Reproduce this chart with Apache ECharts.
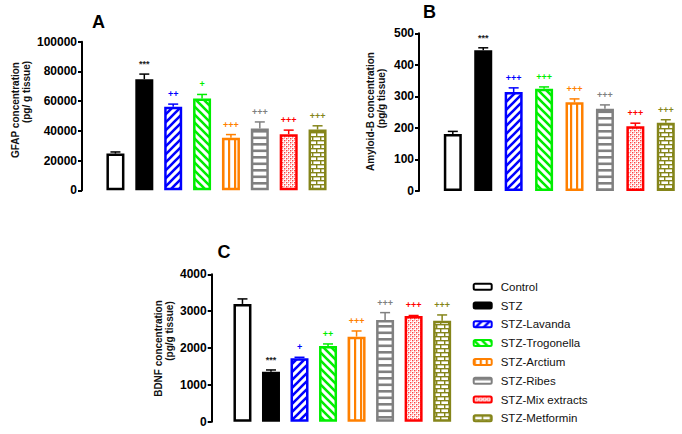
<!DOCTYPE html>
<html>
<head>
<meta charset="utf-8">
<script src="https://cdn.jsdelivr.net/npm/echarts@6/dist/echarts.min.js"></script>
<style>
html,body{margin:0;padding:0;background:#fff;}
#chart{width:682px;height:434px;}
</style>
</head>
<body>
<div id="chart"></div>
<script>
// ---- data ----
const categories = ['Control', 'STZ', 'STZ-Lavanda', 'STZ-Trogonella', 'STZ-Arctium', 'STZ-Ribes', 'STZ-Mix extracts', 'STZ-Metformin'];

const gfapValues = [24700, 74800, 56200, 61800, 35300, 41600, 37800, 40900];
const gfapErrors = [1100, 3400, 1800, 2700, 2200, 4400, 2700, 2500];
const gfapMarks = ['', '***', '++', '+', '+++', '+++', '+++', '+++'];
const gfapTicks = [0, 20000, 40000, 60000, 80000, 100000];

const abValues = [181, 446, 314, 324, 281, 261, 205, 216];
const abErrors = [8, 8, 13, 6, 11, 12, 10, 10];
const abMarks = ['', '***', '+++', '+++', '+++', '+++', '+++', '+++'];
const abTicks = [0, 100, 200, 300, 400, 500];

const bdnfValues = [3196, 1358, 1721, 2055, 2308, 2761, 2870, 2742];
const bdnfErrors = [136, 46, 27, 55, 154, 199, 12, 155];
const bdnfMarks = ['', '***', '+', '++', '+++', '+++', '+++', '+++'];
const bdnfTicks = [0, 1000, 2000, 3000, 4000];

const panelLetters = ['A', 'B', 'C'];
const axisTitles = [
  ['GFAP concentration', '(pg/ g tissue)'],
  ['Amyloid-B concentration', '(pg/g tissue)'],
  ['BDNF concentration', '(pg/g tissue)']
];

// ---- styles ----
const FONT = 'Liberation Sans, Arial, Helvetica, sans-serif';
const colors = ['#000000', '#000000', '#0000ff', '#00ee00', '#ff8000', '#808080', '#ff0000', '#85851a'];

function tile(w, h, draw) {
  const c = document.createElement('canvas');
  c.width = w; c.height = h;
  const g = c.getContext('2d');
  g.fillStyle = '#ffffff';
  g.fillRect(0, 0, w, h);
  draw(g);
  return { image: c.toDataURL(), imageWidth: w, imageHeight: h, repeat: 'repeat' };
}
const fills = [
  '#ffffff',
  '#000000',
  tile(8, 8, g => { g.strokeStyle = colors[2]; g.lineWidth = 2.6; g.beginPath();
    g.moveTo(-2, 10); g.lineTo(10, -2); g.moveTo(-2, 2); g.lineTo(2, -2); g.moveTo(6, 10); g.lineTo(10, 6); g.stroke(); }),
  tile(8, 8, g => { g.strokeStyle = colors[3]; g.lineWidth = 2.6; g.beginPath();
    g.moveTo(-2, -2); g.lineTo(10, 10); g.moveTo(6, -2); g.lineTo(10, 2); g.moveTo(-2, 6); g.lineTo(2, 10); g.stroke(); }),
  tile(6, 2, g => { g.fillStyle = colors[4]; g.fillRect(0, 0, 2.2, 2); }),
  tile(2, 13, g => { g.fillStyle = colors[5]; g.fillRect(0, 0, 2, 2.6); g.fillRect(0, 6.5, 2, 2.6); }),
  tile(4, 4, g => { g.fillStyle = '#ff4040'; g.fillRect(0, 0, 1.4, 1.4); g.fillRect(2, 2, 1.4, 1.4); g.fillStyle = '#ffa0a0'; g.fillRect(2, 0, 1, 1); g.fillRect(0, 2, 1, 1); }),
  tile(8, 8, g => { g.fillStyle = colors[7]; g.fillRect(0, 0, 8, 1.4); g.fillRect(0, 4, 8, 1.4); g.fillRect(0, 0, 1.4, 4); g.fillRect(4, 4, 1.4, 4); })
];

const panels = [
  { values: gfapValues, errors: gfapErrors, marks: gfapMarks, ticks: gfapTicks,
    grid: { left: 101, top: 41.7, width: 231, height: 148.6 }, offset: 19 },
  { values: abValues, errors: abErrors, marks: abMarks, ticks: abTicks,
    grid: { left: 437.6, top: 33.3, width: 243.4, height: 157.7 }, offset: 18.6 },
  { values: bdnfValues, errors: bdnfErrors, marks: bdnfMarks, ticks: bdnfTicks,
    grid: { left: 228.2, top: 274.3, width: 228.2, height: 147.4 }, offset: 16.5 }
];

const grids = [], xAxes = [], yAxes = [], series = [];
panels.forEach((p, k) => {
  grids.push(Object.assign({ containLabel: false }, p.grid));
  xAxes.push({ type: 'category', gridIndex: k, data: categories, show: false });
  const tmax = p.ticks[p.ticks.length - 1];
  yAxes.push({
    type: 'value', gridIndex: k, min: p.ticks[0], max: tmax, interval: p.ticks[1] - p.ticks[0],
    offset: p.offset,
    axisLine: { show: true, lineStyle: { color: '#000', width: 2 } },
    axisTick: { show: true, length: 4, lineStyle: { color: '#000', width: 2 } },
    axisLabel: { color: '#000', fontSize: 12, fontWeight: 'bold', fontFamily: FONT, margin: 5,
      formatter: v => String(v) },
    splitLine: { show: false }
  });
  categories.forEach((name, i) => {
    series.push({
      type: 'bar', name: name, xAxisIndex: k, yAxisIndex: k,
      data: p.values.map((v, j) => (j === i ? v : '-')),
      barWidth: 18, barGap: '-100%',
      itemStyle: { color: fills[i], borderColor: colors[i], borderWidth: 2.5 },
      emphasis: { disabled: true }, silent: true
    });
  });
  series.push({
    type: 'custom', xAxisIndex: k, yAxisIndex: k, z: 5, silent: true,
    data: p.values.map((v, i) => [i, v, p.errors[i]]),
    encode: { x: 0, y: 1 },
    renderItem: function (params, api) {
      const i = api.value(0), v = api.value(1), e = api.value(2);
      const b = api.coord([i, v]);
      const t = api.coord([i, v + e]);
      const c = colors[i];
      const mark = p.marks[i];
      return {
        type: 'group',
        children: [
          { type: 'line', shape: { x1: b[0], y1: b[1], x2: t[0], y2: t[1] }, style: { stroke: c, lineWidth: 1.5 } },
          { type: 'line', shape: { x1: t[0] - 5, y1: t[1], x2: t[0] + 5, y2: t[1] }, style: { stroke: c, lineWidth: 1.5 } },
          { type: 'text', x: t[0], y: t[1] - 10,
            style: { text: mark, fill: mark === '***' ? '#222' : c, font: 'bold 9px ' + FONT, textAlign: 'center', textVerticalAlign: 'middle' } }
        ]
      };
    }
  });
});

const titlePos = [
  { letter: [98.5, 21.5], l1: [15, 110], l2: [26.7, 92] },
  { letter: [429.5, 12], l1: [370, 111.5], l2: [381.7, 98.5] },
  { letter: [224, 252], l1: [158.3, 348.5], l2: [169.5, 331] }
];
const graphics = [];
titlePos.forEach((t, k) => {
  graphics.push({ type: 'text', x: t.letter[0], y: t.letter[1],
    style: { text: panelLetters[k], font: 'bold 18px ' + FONT, fill: '#000', textAlign: 'center', textVerticalAlign: 'middle' } });
  graphics.push({ type: 'text', x: t.l1[0], y: t.l1[1], rotation: Math.PI / 2,
    style: { text: axisTitles[k][0], font: 'bold 10px ' + FONT, fill: '#111', textAlign: 'center', textVerticalAlign: 'middle' } });
  graphics.push({ type: 'text', x: t.l2[0], y: t.l2[1], rotation: Math.PI / 2,
    style: { text: axisTitles[k][1], font: 'bold 10px ' + FONT, fill: '#111', textAlign: 'center', textVerticalAlign: 'middle' } });
});

const chart = echarts.init(document.getElementById('chart'), null, { renderer: 'svg' });
chart.setOption({
  animation: false,
  backgroundColor: '#ffffff',
  grid: grids,
  xAxis: xAxes,
  yAxis: yAxes,
  series: series,
  graphic: graphics,
  legend: {
    data: categories, orient: 'vertical', left: 472.7, top: 280.7, padding: 0,
    itemWidth: 18, itemHeight: 6, itemGap: 6.8, selectedMode: false,
    itemStyle: { borderWidth: 2 },
    textStyle: { fontSize: 11.5, fontFamily: FONT, color: '#111', padding: [0, 0, 0, 4] }
  }
});
</script>
</body>
</html>
